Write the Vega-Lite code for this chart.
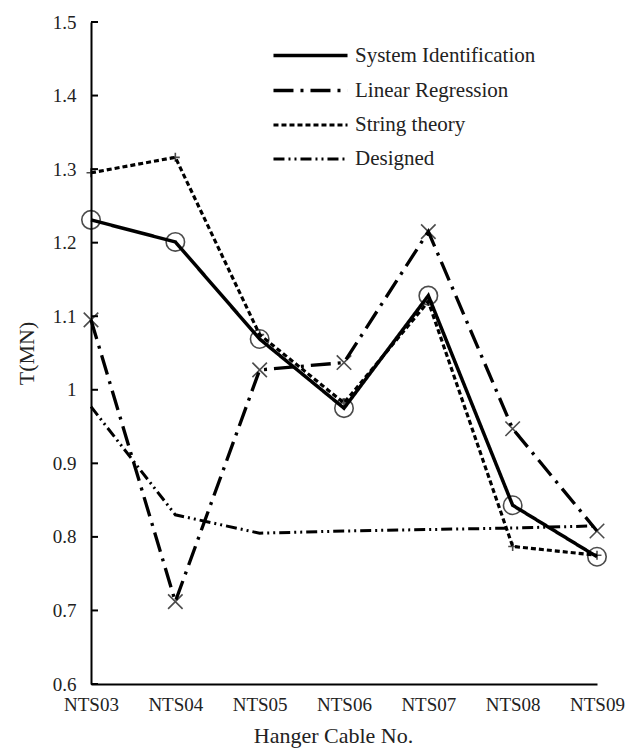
{
  "$schema": "https://vega.github.io/schema/vega-lite/v6.json",
  "width": 506,
  "height": 662,
  "autosize": {"type": "none"},
  "padding": {"left": 91, "top": 22, "right": 36, "bottom": 65},
  "background": "white",
  "config": {
    "view": {"stroke": null},
    "font": "Liberation Serif",
    "axis": {
      "grid": false,
      "domainColor": "black",
      "domainWidth": 2,
      "ticks": false,
      "labelFont": "Liberation Serif",
      "labelFontSize": 19,
      "labelColor": "#222",
      "titleFont": "Liberation Serif",
      "titleFontSize": 22,
      "titleFontWeight": "normal",
      "titleColor": "#222"
    }
  },
  "datasets": {
    "tension": [
      {"cable": "NTS03", "series": "System Identification", "T": 1.231},
      {"cable": "NTS04", "series": "System Identification", "T": 1.201},
      {"cable": "NTS05", "series": "System Identification", "T": 1.069},
      {"cable": "NTS06", "series": "System Identification", "T": 0.975},
      {"cable": "NTS07", "series": "System Identification", "T": 1.128},
      {"cable": "NTS08", "series": "System Identification", "T": 0.843},
      {"cable": "NTS09", "series": "System Identification", "T": 0.773},
      {"cable": "NTS03", "series": "Linear Regression", "T": 1.095},
      {"cable": "NTS04", "series": "Linear Regression", "T": 0.712},
      {"cable": "NTS05", "series": "Linear Regression", "T": 1.027},
      {"cable": "NTS06", "series": "Linear Regression", "T": 1.037},
      {"cable": "NTS07", "series": "Linear Regression", "T": 1.215},
      {"cable": "NTS08", "series": "Linear Regression", "T": 0.947},
      {"cable": "NTS09", "series": "Linear Regression", "T": 0.808},
      {"cable": "NTS03", "series": "String theory", "T": 1.295},
      {"cable": "NTS04", "series": "String theory", "T": 1.316},
      {"cable": "NTS05", "series": "String theory", "T": 1.075},
      {"cable": "NTS06", "series": "String theory", "T": 0.982},
      {"cable": "NTS07", "series": "String theory", "T": 1.12},
      {"cable": "NTS08", "series": "String theory", "T": 0.787},
      {"cable": "NTS09", "series": "String theory", "T": 0.775},
      {"cable": "NTS03", "series": "Designed", "T": 0.977},
      {"cable": "NTS04", "series": "Designed", "T": 0.83},
      {"cable": "NTS05", "series": "Designed", "T": 0.805},
      {"cable": "NTS06", "series": "Designed", "T": 0.808},
      {"cable": "NTS07", "series": "Designed", "T": 0.81},
      {"cable": "NTS08", "series": "Designed", "T": 0.812},
      {"cable": "NTS09", "series": "Designed", "T": 0.815}
    ],
    "yTicks": [
      {"T": 0.6}, {"T": 0.7}, {"T": 0.8}, {"T": 0.9}, {"T": 1.0},
      {"T": 1.1}, {"T": 1.2}, {"T": 1.3}, {"T": 1.4}, {"T": 1.5}
    ],
    "xTicks": [
      {"cable": "NTS03"}, {"cable": "NTS04"}, {"cable": "NTS05"}, {"cable": "NTS06"},
      {"cable": "NTS07"}, {"cable": "NTS08"}, {"cable": "NTS09"}
    ]
  },
  "encoding": {
    "x": {
      "field": "cable",
      "type": "ordinal",
      "scale": {"type": "point", "padding": 0},
      "axis": {
        "title": "Hanger Cable No.",
        "labelAngle": 0,
        "labelPadding": 11,
        "titlePadding": 11,
        "titleX": 242
      }
    },
    "y": {
      "field": "T",
      "type": "quantitative",
      "scale": {"domain": [0.6, 1.5], "nice": false, "zero": false},
      "axis": {
        "title": "T(MN)",
        "values": [0.6, 0.7, 0.8, 0.9, 1, 1.1, 1.2, 1.3, 1.4, 1.5],
        "format": "~g",
        "labelPadding": 15,
        "titlePadding": 14
      }
    }
  },
  "layer": [
    {
      "data": {"name": "yTicks"},
      "mark": {"type": "tick", "color": "black", "orient": "horizontal", "size": 7, "thickness": 2, "xOffset": 3.5, "opacity": 1},
      "encoding": {
        "x": {"datum": "NTS03"},
        "y": {"field": "T", "type": "quantitative"}
      }
    },
    {
      "data": {"name": "xTicks"},
      "mark": {"type": "tick", "color": "black", "orient": "vertical", "size": 7, "thickness": 2, "yOffset": -3.5, "opacity": 1},
      "encoding": {
        "x": {"field": "cable", "type": "ordinal"},
        "y": {"datum": 0.6}
      }
    },
    {
      "data": {"name": "tension"},
      "mark": {"type": "line", "color": "black", "clip": false},
      "encoding": {
        "detail": {"field": "series"},
        "strokeDash": {
          "field": "series",
          "type": "nominal",
          "scale": {
            "domain": ["System Identification", "Linear Regression", "String theory", "Designed"],
            "range": [[1, 0], [20, 7, 3, 7], [5, 3], [11, 4, 2, 4, 2, 4]]
          },
          "legend": {
            "title": null,
            "orient": "none",
            "legendX": 205,
            "legendY": 19,
            "symbolType": "M-3,0H3",
            "symbolSize": 609,
            "symbolStrokeColor": "black",
            "symbolFillColor": "transparent",
            "labelFont": "Liberation Serif",
            "labelFontSize": 21,
            "labelColor": "#222",
            "labelOffset": 30,
            "rowPadding": 10,
            "labelLimit": 300
          }
        },
        "strokeWidth": {
          "field": "series",
          "type": "nominal",
          "scale": {
            "domain": ["System Identification", "Linear Regression", "String theory", "Designed"],
            "range": [3.5, 3, 1.2, 1.2]
          },
          "legend": {
            "title": null,
            "orient": "none",
            "legendX": 205,
            "legendY": 19
          }
        }
      }
    },
    {
      "data": {"name": "tension"},
      "transform": [{"filter": "datum.series !== 'Designed'"}],
      "mark": {"type": "point", "filled": false, "color": "black", "strokeWidth": 1.6, "clip": false},
      "encoding": {
        "shape": {
          "field": "series",
          "type": "nominal",
          "scale": {
            "domain": ["System Identification", "Linear Regression", "String theory"],
            "range": ["circle", "M-1,-1L1,1M-1,1L1,-1", "M-1,0H1M0,-1V1"]
          },
          "legend": null
        },
        "size": {
          "field": "series",
          "type": "nominal",
          "scale": {
            "domain": ["System Identification", "Linear Regression", "String theory"],
            "range": [340, 80, 210]
          },
          "legend": null
        }
      }
    }
  ]
}
